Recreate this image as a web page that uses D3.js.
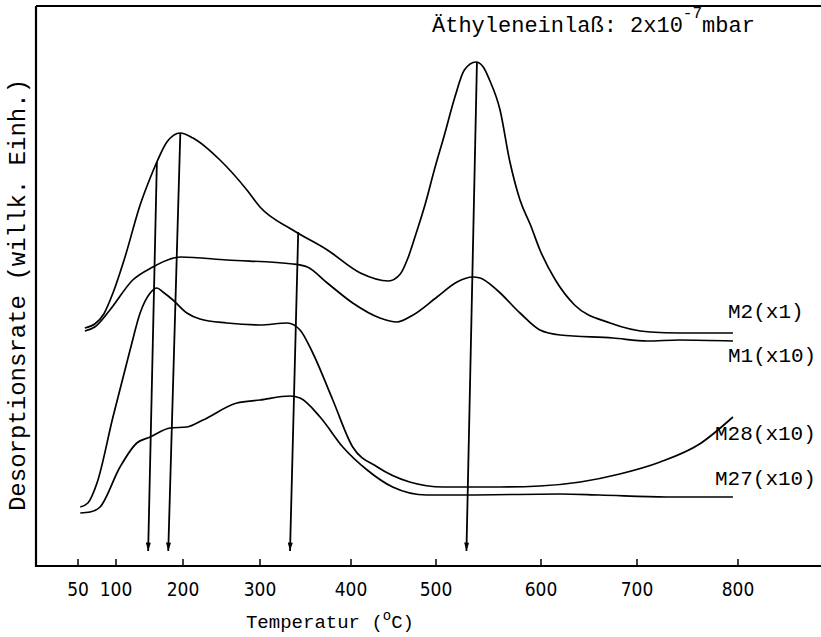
<!DOCTYPE html>
<html>
<head>
<meta charset="utf-8">
<script src="https://cdn.jsdelivr.net/npm/d3@7"></script>
<style>
  body { margin: 0; background: #fff; }
  svg { display: block; }
</style>
</head>
<body>
<svg id="chart" width="821" height="637"></svg>
<script>
// temperature ticks (axis is not linear in the original plot)
const tickTemps = [50, 100, 200, 300, 400, 500, 600, 700, 800];

// [temperature °C, rate (arb. units)]
const m2 = [[59,238],[72,242],[84,252],[96,273],[113,308],[136,361],[151,388],[161,404],[176,424],[196,433],
  [213,428],[248,406],[283,376],[300,359],[336,336],[374,316],[411,293],[444,285],[458,292],
  [467,308],[476,331],[487,361],[498,396],[508,431],[518,469],[527,496],[538,504],[545,499],[551,486],
  [561,456],[570,406],[580,366],[590,341],[599,316],[615,286],[635,261],[672,243],[713,234],[742,233],[795,233]];
const m1 = [[59,235],[72,239],[92,256],[125,286],[155,299],[181,307],[196,309],[257,306],[336,302],
  [352,299],[374,283],[402,263],[434,248],[454,244],[473,251],[501,269],[520,284],[535,289],[542,288],
  [558,276],[580,253],[599,236],[620,231],[675,228],[710,225],[742,226],[795,225]];
const m28 = [[53,59],[63,63],[75,83],[96,149],[121,216],[136,253],[151,273],[161,278],[170,274],
  [185,266],[205,253],[222,247],[257,243],[300,241],[330,243],[344,236],[358,213],[380,166],[402,119],
  [431,99],[469,84],[507,79],[561,79],[599,80],[641,84],[682,92],[723,104],[762,122],[795,149]];
const m27 = [[53,53],[66,54],[79,59],[106,99],[131,123],[151,129],[181,138],[205,139],[226,146],
  [270,163],[300,166],[333,170],[344,168],[366,149],[391,119],[419,96],[449,79],[489,71],[523,71],
  [620,72],[661,71],[729,69],[795,69]];

const seriesNames = ["M2(x1)", "M1(x10)", "M28(x10)", "M27(x10)"];

// peak arrows: top point on curve, arrow tip temperature at the axis
const arrowTopTemp = [161, 196, 342, 539];
const arrowTopRate = [404, 433, 334, 504];
const arrowTipTemp = [148, 178, 333, 529];
const arrowTipRate = 15;

const svg = d3.select("#chart");
const mono = "'Liberation Mono', 'Courier New', monospace";

const x = d3.scaleLinear()
    .domain(tickTemps)
    .range([78, 116, 183, 260, 351, 436, 541, 637, 738]);
const y = d3.scaleLinear()
    .domain([0, 560])
    .range([566, 6]);

// frame: left, top and bottom lines
svg.append("path")
    .attr("d", "M36,6H821M36,6V566H821")
    .attr("fill", "none")
    .attr("stroke", "#000")
    .attr("stroke-width", 2.2);

// x ticks
const ticks = svg.append("g").attr("class", "ticks");
ticks.selectAll("line")
    .data(tickTemps)
    .enter().append("line")
    .attr("x1", d => x(d)).attr("x2", d => x(d))
    .attr("y1", 566).attr("y2", 559)
    .attr("stroke", "#000")
    .attr("stroke-width", 1.5);
ticks.selectAll("text")
    .data(tickTemps)
    .enter().append("text")
    .attr("x", d => x(d))
    .attr("y", 596)
    .attr("text-anchor", "middle")
    .style("font-family", "'DejaVu Sans Condensed', 'Liberation Sans Narrow', sans-serif")
    .style("font-stretch", "condensed")
    .style("font-size", "19px")
    .text(d => d);

// curves
const line = d3.line()
    .x(d => x(d[0]))
    .y(d => y(d[1]))
    .curve(d3.curveMonotoneX);

svg.append("g").attr("class", "curves")
    .selectAll("path")
    .data([m2, m1, m28, m27])
    .enter().append("path")
    .attr("d", line)
    .attr("fill", "none")
    .attr("stroke", "#000")
    .attr("stroke-width", 1.7);

// arrows
svg.append("defs").append("marker")
    .attr("id", "arrow")
    .attr("viewBox", "0 -3 10 6")
    .attr("refX", 10)
    .attr("refY", 0)
    .attr("markerUnits", "userSpaceOnUse")
    .attr("markerWidth", 9)
    .attr("markerHeight", 5)
    .attr("orient", "auto")
    .append("path")
    .attr("d", "M0,-3L10,0L0,3Z")
    .attr("fill", "#000");

svg.append("g").attr("class", "arrows")
    .selectAll("line")
    .data(arrowTopTemp)
    .enter().append("line")
    .attr("x1", (d, i) => x(d))
    .attr("y1", (d, i) => y(arrowTopRate[i]))
    .attr("x2", (d, i) => x(arrowTipTemp[i]))
    .attr("y2", y(arrowTipRate))
    .attr("stroke", "#000")
    .attr("stroke-width", 1.8)
    .attr("marker-end", "url(#arrow)");

// series labels
const labelPos = [[728, 318], [728, 362], [715, 440], [715, 485]];
svg.append("g").attr("class", "labels")
    .selectAll("text")
    .data(seriesNames)
    .enter().append("text")
    .attr("x", (d, i) => labelPos[i][0])
    .attr("y", (d, i) => labelPos[i][1])
    .style("font-family", mono)
    .style("font-size", "21px")
    .text(d => d);

// header note
const note = svg.append("text")
    .attr("x", 432)
    .attr("y", 32)
    .style("font-family", mono)
    .style("font-size", "22px");
note.append("tspan").text("Äthyleneinlaß: 2x10");
note.append("tspan").attr("dy", -14).style("font-size", "16px").text("-7");
note.append("tspan").attr("dy", 14).text("mbar");

// axis titles
const xTitle = svg.append("text")
    .attr("x", 330)
    .attr("y", 628)
    .attr("text-anchor", "middle")
    .style("font-family", mono)
    .style("font-size", "19px");
xTitle.append("tspan").text("Temperatur (");
xTitle.append("tspan").attr("dy", -8).style("font-size", "14px").text("o");
xTitle.append("tspan").attr("dy", 8).text("C)");

svg.append("text")
    .attr("transform", "translate(25,295) rotate(-90)")
    .attr("text-anchor", "middle")
    .style("font-family", mono)
    .style("font-size", "24px")
    .text("Desorptionsrate (willk. Einh.)");
</script>
</body>
</html>
